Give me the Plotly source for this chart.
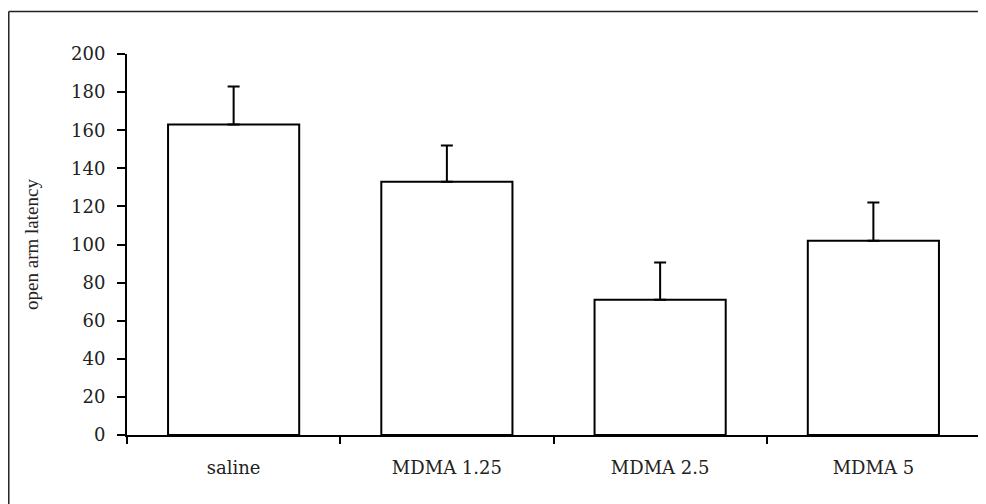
import plotly.graph_objects as go

categories = ["saline", "MDMA 1.25", "MDMA 2.5", "MDMA 5"]
latency = [163, 133, 71, 102]
sem = [20, 19, 19.5, 20]
y_ticks = [0, 20, 40, 60, 80, 100, 120, 140, 160, 180, 200]

TICK_FONT = "DejaVu Serif"
TITLE_FONT = "Liberation Serif"
TEXT = "#222"

fig = go.Figure(
    go.Bar(
        x=categories,
        y=latency,
        width=0.615,
        marker=dict(color="white", line=dict(color="black", width=2)),
        error_y=dict(
            type="data",
            array=sem,
            arrayminus=[0] * len(sem),
            symmetric=False,
            color="black",
            thickness=2,
            width=6,
        ),
    )
)

fig.update_layout(
    width=978,
    height=496,
    margin=dict(l=119, r=6, t=46, b=69),
    paper_bgcolor="white",
    plot_bgcolor="white",
    showlegend=False,
    font=dict(family=TICK_FONT, size=18, color=TEXT),
    xaxis=dict(
        type="category",
        showline=True,
        linecolor="black",
        linewidth=2,
        ticks="outside",
        tickson="boundaries",
        ticklen=7,
        tickwidth=2,
        tickcolor="black",
        showgrid=False,
        zeroline=False,
        ticklabelstandoff=15,
        tickfont=dict(family=TICK_FONT, size=18, color=TEXT),
    ),
    yaxis=dict(
        range=[0, 200],
        tickvals=y_ticks,
        showline=True,
        linecolor="black",
        linewidth=2,
        ticks="outside",
        ticklen=8,
        tickwidth=2,
        tickcolor="black",
        showgrid=False,
        zeroline=False,
        ticklabelstandoff=8,
        tickfont=dict(family=TICK_FONT, size=18, color=TEXT),
        title=dict(text="open arm latency", font=dict(family=TITLE_FONT, size=19, color=TEXT), standoff=27),
        automargin=False,
    ),
    shapes=[
        dict(type="line", xref="paper", yref="paper", x0=-0.1386, x1=-0.1386, y0=-0.3, y1=1.1115,
             line=dict(color="#222", width=1.5)),
        dict(type="line", xref="paper", yref="paper", x0=-0.1386, x1=1.05, y0=1.1115, y1=1.1115,
             line=dict(color="#222", width=1.5)),
    ],
)

fig.write_html("out.html")
